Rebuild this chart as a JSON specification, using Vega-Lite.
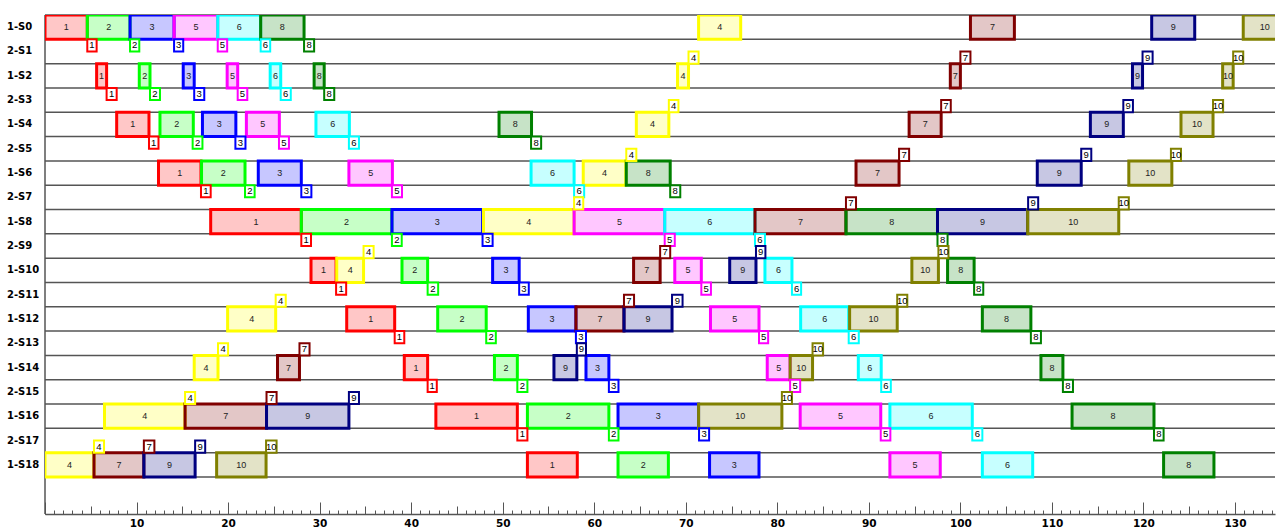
{
  "$schema": "https://vega.github.io/schema/vega-lite/v6.json",
  "width": 1230,
  "height": 499,
  "autosize": {"type": "none"},
  "padding": {"left": 45, "top": 15, "right": 4, "bottom": 14},
  "background": "white",
  "config": {"view": {"stroke": null}, "font": "Liberation Sans"},
  "datasets": {
    "rows": [
      {"row": "1-S0"}, {"row": "2-S1"}, {"row": "1-S2"}, {"row": "2-S3"}, {"row": "1-S4"}, {"row": "2-S5"}, {"row": "1-S6"}, {"row": "2-S7"}, {"row": "1-S8"}, {"row": "2-S9"},
      {"row": "1-S10"}, {"row": "2-S11"}, {"row": "1-S12"}, {"row": "2-S13"}, {"row": "1-S14"}, {"row": "2-S15"}, {"row": "1-S16"}, {"row": "2-S17"}, {"row": "1-S18"}
    ],
    "bars": [
      {"row": "1-S0", "job": 1, "start": 0, "end": 4.62},
      {"row": "1-S0", "job": 2, "start": 4.62, "end": 9.29},
      {"row": "1-S0", "job": 3, "start": 9.29, "end": 14.1},
      {"row": "1-S0", "job": 5, "start": 14.1, "end": 18.87},
      {"row": "1-S0", "job": 6, "start": 18.87, "end": 23.56},
      {"row": "1-S0", "job": 8, "start": 23.56, "end": 28.3},
      {"row": "1-S0", "job": 4, "start": 71.4, "end": 76.0},
      {"row": "1-S0", "job": 7, "start": 101.1, "end": 105.9},
      {"row": "1-S0", "job": 9, "start": 120.9, "end": 125.6},
      {"row": "1-S0", "job": 10, "start": 130.9, "end": 135.6},
      {"row": "1-S2", "job": 1, "start": 5.64, "end": 6.73},
      {"row": "1-S2", "job": 2, "start": 10.3, "end": 11.47},
      {"row": "1-S2", "job": 3, "start": 15.1, "end": 16.3},
      {"row": "1-S2", "job": 5, "start": 19.9, "end": 21.05},
      {"row": "1-S2", "job": 6, "start": 24.6, "end": 25.75},
      {"row": "1-S2", "job": 8, "start": 29.4, "end": 30.5},
      {"row": "1-S2", "job": 4, "start": 69.1, "end": 70.3},
      {"row": "1-S2", "job": 7, "start": 98.9, "end": 100.0},
      {"row": "1-S2", "job": 9, "start": 118.8, "end": 119.9},
      {"row": "1-S2", "job": 10, "start": 128.65, "end": 129.8},
      {"row": "1-S4", "job": 1, "start": 7.83, "end": 11.36},
      {"row": "1-S4", "job": 2, "start": 12.56, "end": 16.2},
      {"row": "1-S4", "job": 3, "start": 17.2, "end": 20.85},
      {"row": "1-S4", "job": 5, "start": 22.0, "end": 25.6},
      {"row": "1-S4", "job": 6, "start": 29.6, "end": 33.25},
      {"row": "1-S4", "job": 8, "start": 49.6, "end": 53.15},
      {"row": "1-S4", "job": 4, "start": 64.6, "end": 68.15},
      {"row": "1-S4", "job": 7, "start": 94.4, "end": 97.9},
      {"row": "1-S4", "job": 9, "start": 114.2, "end": 117.8},
      {"row": "1-S4", "job": 10, "start": 124.1, "end": 127.6},
      {"row": "1-S6", "job": 1, "start": 12.4, "end": 17.04},
      {"row": "1-S6", "job": 2, "start": 17.1, "end": 21.85},
      {"row": "1-S6", "job": 3, "start": 23.3, "end": 28.0},
      {"row": "1-S6", "job": 5, "start": 33.2, "end": 37.95},
      {"row": "1-S6", "job": 6, "start": 53.1, "end": 57.8},
      {"row": "1-S6", "job": 4, "start": 58.8, "end": 63.45},
      {"row": "1-S6", "job": 8, "start": 63.5, "end": 68.3},
      {"row": "1-S6", "job": 7, "start": 88.6, "end": 93.3},
      {"row": "1-S6", "job": 9, "start": 108.4, "end": 113.2},
      {"row": "1-S6", "job": 10, "start": 118.4, "end": 123.1},
      {"row": "1-S8", "job": 1, "start": 18.1, "end": 28.0},
      {"row": "1-S8", "job": 2, "start": 28.0, "end": 37.9},
      {"row": "1-S8", "job": 3, "start": 37.9, "end": 47.8},
      {"row": "1-S8", "job": 4, "start": 47.9, "end": 57.8},
      {"row": "1-S8", "job": 5, "start": 57.8, "end": 67.7},
      {"row": "1-S8", "job": 6, "start": 67.7, "end": 77.56},
      {"row": "1-S8", "job": 7, "start": 77.56, "end": 87.5},
      {"row": "1-S8", "job": 8, "start": 87.5, "end": 97.5},
      {"row": "1-S8", "job": 9, "start": 97.5, "end": 107.35},
      {"row": "1-S8", "job": 10, "start": 107.35, "end": 117.3},
      {"row": "1-S10", "job": 1, "start": 29.06, "end": 31.8},
      {"row": "1-S10", "job": 4, "start": 31.87, "end": 34.8},
      {"row": "1-S10", "job": 2, "start": 39.0, "end": 41.8},
      {"row": "1-S10", "job": 3, "start": 48.9, "end": 51.8},
      {"row": "1-S10", "job": 7, "start": 64.3, "end": 67.2},
      {"row": "1-S10", "job": 5, "start": 68.8, "end": 71.7},
      {"row": "1-S10", "job": 9, "start": 74.8, "end": 77.67},
      {"row": "1-S10", "job": 6, "start": 78.65, "end": 81.6},
      {"row": "1-S10", "job": 10, "start": 94.7, "end": 97.6},
      {"row": "1-S10", "job": 8, "start": 98.6, "end": 101.5},
      {"row": "1-S12", "job": 4, "start": 19.95, "end": 25.2},
      {"row": "1-S12", "job": 1, "start": 32.96, "end": 38.2},
      {"row": "1-S12", "job": 2, "start": 42.9, "end": 48.2},
      {"row": "1-S12", "job": 3, "start": 52.8, "end": 58.0},
      {"row": "1-S12", "job": 7, "start": 58.0, "end": 63.25},
      {"row": "1-S12", "job": 9, "start": 63.25, "end": 68.5},
      {"row": "1-S12", "job": 5, "start": 72.7, "end": 78.0},
      {"row": "1-S12", "job": 6, "start": 82.55, "end": 87.8},
      {"row": "1-S12", "job": 10, "start": 87.9, "end": 93.1},
      {"row": "1-S12", "job": 8, "start": 102.4, "end": 107.7},
      {"row": "1-S14", "job": 4, "start": 16.3, "end": 18.9},
      {"row": "1-S14", "job": 7, "start": 25.4, "end": 27.8},
      {"row": "1-S14", "job": 1, "start": 39.25, "end": 41.8},
      {"row": "1-S14", "job": 2, "start": 49.1, "end": 51.6},
      {"row": "1-S14", "job": 9, "start": 55.6, "end": 58.1},
      {"row": "1-S14", "job": 3, "start": 59.1, "end": 61.6},
      {"row": "1-S14", "job": 5, "start": 78.9, "end": 81.4},
      {"row": "1-S14", "job": 10, "start": 81.4, "end": 83.85},
      {"row": "1-S14", "job": 6, "start": 88.85, "end": 91.35},
      {"row": "1-S14", "job": 8, "start": 108.8, "end": 111.2},
      {"row": "1-S16", "job": 4, "start": 6.5, "end": 15.3},
      {"row": "1-S16", "job": 7, "start": 15.3, "end": 24.2},
      {"row": "1-S16", "job": 9, "start": 24.2, "end": 33.2},
      {"row": "1-S16", "job": 1, "start": 42.7, "end": 51.6},
      {"row": "1-S16", "job": 2, "start": 52.7, "end": 61.6},
      {"row": "1-S16", "job": 3, "start": 62.6, "end": 71.4},
      {"row": "1-S16", "job": 10, "start": 71.4, "end": 80.5},
      {"row": "1-S16", "job": 5, "start": 82.5, "end": 91.3},
      {"row": "1-S16", "job": 6, "start": 92.3, "end": 101.3},
      {"row": "1-S16", "job": 8, "start": 112.2, "end": 121.15},
      {"row": "1-S18", "job": 4, "start": 0, "end": 5.35},
      {"row": "1-S18", "job": 7, "start": 5.35, "end": 10.8},
      {"row": "1-S18", "job": 9, "start": 10.8, "end": 16.4},
      {"row": "1-S18", "job": 10, "start": 18.75, "end": 24.15},
      {"row": "1-S18", "job": 1, "start": 52.7, "end": 58.15},
      {"row": "1-S18", "job": 2, "start": 62.6, "end": 68.1},
      {"row": "1-S18", "job": 3, "start": 72.6, "end": 78.0},
      {"row": "1-S18", "job": 5, "start": 92.3, "end": 97.8},
      {"row": "1-S18", "job": 6, "start": 102.4, "end": 107.9},
      {"row": "1-S18", "job": 8, "start": 122.2, "end": 127.7}
    ],
    "tags": [
      {"row": "2-S1", "job": 1, "half": "top", "start": 4.62, "end": 5.64},
      {"row": "2-S1", "job": 2, "half": "top", "start": 9.29, "end": 10.3},
      {"row": "2-S1", "job": 3, "half": "top", "start": 14.1, "end": 15.1},
      {"row": "2-S1", "job": 5, "half": "top", "start": 18.87, "end": 19.9},
      {"row": "2-S1", "job": 6, "half": "top", "start": 23.56, "end": 24.6},
      {"row": "2-S1", "job": 8, "half": "top", "start": 28.3, "end": 29.4},
      {"row": "2-S1", "job": 4, "half": "bottom", "start": 70.3, "end": 71.4},
      {"row": "2-S1", "job": 7, "half": "bottom", "start": 100.0, "end": 101.1},
      {"row": "2-S1", "job": 9, "half": "bottom", "start": 119.9, "end": 121.0},
      {"row": "2-S1", "job": 10, "half": "bottom", "start": 129.8, "end": 130.9},
      {"row": "2-S3", "job": 1, "half": "top", "start": 6.73, "end": 7.83},
      {"row": "2-S3", "job": 2, "half": "top", "start": 11.47, "end": 12.56},
      {"row": "2-S3", "job": 3, "half": "top", "start": 16.3, "end": 17.4},
      {"row": "2-S3", "job": 5, "half": "top", "start": 21.05, "end": 22.1},
      {"row": "2-S3", "job": 6, "half": "top", "start": 25.75, "end": 26.85},
      {"row": "2-S3", "job": 8, "half": "top", "start": 30.5, "end": 31.6},
      {"row": "2-S3", "job": 4, "half": "bottom", "start": 68.15, "end": 69.2},
      {"row": "2-S3", "job": 7, "half": "bottom", "start": 97.9, "end": 98.95},
      {"row": "2-S3", "job": 9, "half": "bottom", "start": 117.8, "end": 118.85},
      {"row": "2-S3", "job": 10, "half": "bottom", "start": 127.6, "end": 128.7},
      {"row": "2-S5", "job": 1, "half": "top", "start": 11.36, "end": 12.4},
      {"row": "2-S5", "job": 2, "half": "top", "start": 16.13, "end": 17.2},
      {"row": "2-S5", "job": 3, "half": "top", "start": 20.8, "end": 21.9},
      {"row": "2-S5", "job": 5, "half": "top", "start": 25.56, "end": 26.65},
      {"row": "2-S5", "job": 6, "half": "top", "start": 33.2, "end": 34.3},
      {"row": "2-S5", "job": 8, "half": "top", "start": 53.1, "end": 54.2},
      {"row": "2-S5", "job": 4, "half": "bottom", "start": 63.5, "end": 64.6},
      {"row": "2-S5", "job": 7, "half": "bottom", "start": 93.3, "end": 94.4},
      {"row": "2-S5", "job": 9, "half": "bottom", "start": 113.2, "end": 114.3},
      {"row": "2-S5", "job": 10, "half": "bottom", "start": 123.0, "end": 124.1},
      {"row": "2-S7", "job": 1, "half": "top", "start": 17.04, "end": 18.1},
      {"row": "2-S7", "job": 2, "half": "top", "start": 21.85, "end": 22.9},
      {"row": "2-S7", "job": 3, "half": "top", "start": 28.0, "end": 29.1},
      {"row": "2-S7", "job": 5, "half": "top", "start": 37.9, "end": 39.0},
      {"row": "2-S7", "job": 6, "half": "top", "start": 57.8, "end": 58.9},
      {"row": "2-S7", "job": 8, "half": "top", "start": 68.3, "end": 69.4},
      {"row": "2-S7", "job": 4, "half": "bottom", "start": 57.8, "end": 58.8},
      {"row": "2-S7", "job": 7, "half": "bottom", "start": 87.5, "end": 88.6},
      {"row": "2-S7", "job": 9, "half": "bottom", "start": 107.4, "end": 108.5},
      {"row": "2-S7", "job": 10, "half": "bottom", "start": 117.3, "end": 118.4},
      {"row": "2-S9", "job": 1, "half": "top", "start": 28.0, "end": 29.06},
      {"row": "2-S9", "job": 2, "half": "top", "start": 37.9, "end": 38.97},
      {"row": "2-S9", "job": 3, "half": "top", "start": 47.8, "end": 48.9},
      {"row": "2-S9", "job": 5, "half": "top", "start": 67.7, "end": 68.8},
      {"row": "2-S9", "job": 6, "half": "top", "start": 77.56, "end": 78.65},
      {"row": "2-S9", "job": 8, "half": "top", "start": 97.5, "end": 98.6},
      {"row": "2-S9", "job": 4, "half": "bottom", "start": 34.8, "end": 35.9},
      {"row": "2-S9", "job": 7, "half": "bottom", "start": 67.2, "end": 68.3},
      {"row": "2-S9", "job": 9, "half": "bottom", "start": 77.67, "end": 78.7},
      {"row": "2-S9", "job": 10, "half": "bottom", "start": 97.6, "end": 98.7},
      {"row": "2-S11", "job": 1, "half": "top", "start": 31.8, "end": 32.9},
      {"row": "2-S11", "job": 2, "half": "top", "start": 41.8, "end": 42.95},
      {"row": "2-S11", "job": 3, "half": "top", "start": 51.8, "end": 52.85},
      {"row": "2-S11", "job": 5, "half": "top", "start": 71.7, "end": 72.75},
      {"row": "2-S11", "job": 6, "half": "top", "start": 81.6, "end": 82.6},
      {"row": "2-S11", "job": 8, "half": "top", "start": 101.5, "end": 102.5},
      {"row": "2-S11", "job": 4, "half": "bottom", "start": 25.2, "end": 26.3},
      {"row": "2-S11", "job": 7, "half": "bottom", "start": 63.25, "end": 64.35},
      {"row": "2-S11", "job": 9, "half": "bottom", "start": 68.5, "end": 69.65},
      {"row": "2-S11", "job": 10, "half": "bottom", "start": 93.1, "end": 94.2},
      {"row": "2-S13", "job": 1, "half": "top", "start": 38.2, "end": 39.25},
      {"row": "2-S13", "job": 2, "half": "top", "start": 48.2, "end": 49.25},
      {"row": "2-S13", "job": 3, "half": "top", "start": 58.0, "end": 59.1},
      {"row": "2-S13", "job": 5, "half": "top", "start": 78.0, "end": 79.0},
      {"row": "2-S13", "job": 6, "half": "top", "start": 87.8, "end": 88.9},
      {"row": "2-S13", "job": 8, "half": "top", "start": 107.7, "end": 108.8},
      {"row": "2-S13", "job": 4, "half": "bottom", "start": 18.9, "end": 20.0},
      {"row": "2-S13", "job": 7, "half": "bottom", "start": 27.8, "end": 28.9},
      {"row": "2-S13", "job": 9, "half": "bottom", "start": 58.1, "end": 59.1},
      {"row": "2-S13", "job": 10, "half": "bottom", "start": 83.85, "end": 85.0},
      {"row": "2-S15", "job": 1, "half": "top", "start": 41.8, "end": 42.8},
      {"row": "2-S15", "job": 2, "half": "top", "start": 51.6, "end": 52.7},
      {"row": "2-S15", "job": 3, "half": "top", "start": 61.6, "end": 62.65},
      {"row": "2-S15", "job": 5, "half": "top", "start": 81.4, "end": 82.5},
      {"row": "2-S15", "job": 6, "half": "top", "start": 91.35, "end": 92.4},
      {"row": "2-S15", "job": 8, "half": "top", "start": 111.2, "end": 112.3},
      {"row": "2-S15", "job": 4, "half": "bottom", "start": 15.3, "end": 16.4},
      {"row": "2-S15", "job": 7, "half": "bottom", "start": 24.2, "end": 25.3},
      {"row": "2-S15", "job": 9, "half": "bottom", "start": 33.2, "end": 34.3},
      {"row": "2-S15", "job": 10, "half": "bottom", "start": 80.5, "end": 81.6},
      {"row": "2-S17", "job": 1, "half": "top", "start": 51.6, "end": 52.7},
      {"row": "2-S17", "job": 2, "half": "top", "start": 61.6, "end": 62.65},
      {"row": "2-S17", "job": 3, "half": "top", "start": 71.45, "end": 72.55},
      {"row": "2-S17", "job": 5, "half": "top", "start": 91.3, "end": 92.35},
      {"row": "2-S17", "job": 6, "half": "top", "start": 101.3, "end": 102.4},
      {"row": "2-S17", "job": 8, "half": "top", "start": 121.15, "end": 122.2},
      {"row": "2-S17", "job": 4, "half": "bottom", "start": 5.35, "end": 6.45},
      {"row": "2-S17", "job": 7, "half": "bottom", "start": 10.8, "end": 11.95},
      {"row": "2-S17", "job": 9, "half": "bottom", "start": 16.4, "end": 17.5},
      {"row": "2-S17", "job": 10, "half": "bottom", "start": 24.15, "end": 25.3}
    ]
  },
  "resolve": {"axis": {"x": "independent"}},
  "layer": [
    {
      "data": {"name": "rows"},
      "mark": {"type": "rule", "color": "#555555", "strokeWidth": 1.5},
      "encoding": {
        "y": {"field": "row", "type": "nominal", "bandPosition": 0, "axis": null,
          "scale": {"domain": ["1-S0","2-S1","1-S2","2-S3","1-S4","2-S5","1-S6","2-S7","1-S8","2-S9","1-S10","2-S11","1-S12","2-S13","1-S14","2-S15","1-S16","2-S17","1-S18"], "range": [0, 462], "paddingInner": 0, "paddingOuter": 0}}
      }
    },
    {
      "data": {"name": "rows"},
      "transform": [{"filter": "datum.row == '1-S18'"}],
      "mark": {"type": "rule", "color": "#555555", "strokeWidth": 1.5},
      "encoding": {
        "y": {"field": "row", "type": "nominal", "bandPosition": 1, "axis": null}
      }
    },
    {
      "data": {"name": "rows"},
      "mark": {"type": "text", "align": "left", "baseline": "middle", "dx": -38, "font": "DejaVu Sans", "fontWeight": "bold", "fontSize": 10, "color": "#000000"},
      "encoding": {
        "x": {"datum": 0, "type": "quantitative", "axis": null},
        "y": {"field": "row", "type": "nominal", "axis": null},
        "text": {"field": "row", "type": "nominal"}
      }
    },
    {
      "data": {"values": [{"edge": "left"}]},
      "mark": {"type": "rule", "color": "#555555", "strokeWidth": 1.5},
      "encoding": {
        "x": {"datum": 0, "type": "quantitative",
          "scale": {"domain": [0, 134.37], "nice": false, "zero": false},
          "axis": {"orient": "bottom", "tickCount": 13, "tickSize": -12, "tickColor": "#555555", "tickWidth": 1, "labels": false, "domain": false, "grid": false, "title": null}}
      }
    },
    {
      "data": {"name": "bars"},
      "mark": {"type": "bar", "strokeWidth": 3, "fillOpacity": 0.22, "clip": true},
      "encoding": {
        "x": {"field": "start", "type": "quantitative",
          "axis": {"orient": "bottom", "tickCount": 134, "tickSize": -4, "tickColor": "#555555", "tickWidth": 1, "labels": false, "domain": true, "domainColor": "#555555", "domainWidth": 1.5, "grid": false, "title": null}},
        "x2": {"field": "end"},
        "y": {"field": "row", "type": "nominal", "axis": null},
        "fill": {"field": "job", "type": "nominal", "legend": null,
          "scale": {"domain": [1,2,3,4,5,6,7,8,9,10], "range": ["#ff0000","#00ff00","#0000ff","#ffff00","#ff00ff","#00ffff","#800000","#008000","#000080","#808000"]}},
        "stroke": {"field": "job", "type": "nominal", "legend": null,
          "scale": {"domain": [1,2,3,4,5,6,7,8,9,10], "range": ["#ff0000","#00ff00","#0000ff","#ffff00","#ff00ff","#00ffff","#800000","#008000","#000080","#808000"]}}
      }
    },
    {
      "data": {"name": "bars"},
      "transform": [
        {"fold": ["start", "end"], "as": ["edge", "t"]},
        {"aggregate": [{"op": "mean", "field": "t", "as": "mid"}], "groupby": ["row", "job"]}
      ],
      "mark": {"type": "text", "fontSize": 9, "color": "#222222", "font": "Liberation Sans"},
      "encoding": {
        "x": {"field": "mid", "type": "quantitative",
          "axis": {"orient": "bottom", "values": [10,20,30,40,50,60,70,80,90,100,110,120,130], "ticks": false, "domain": false, "grid": false, "labelPadding": 4, "labelFont": "DejaVu Sans", "labelFontWeight": "bold", "labelFontSize": 10.5, "labelColor": "#000000", "labelFlush": false, "title": null}},
        "y": {"field": "row", "type": "nominal", "axis": null},
        "text": {"field": "job", "type": "nominal"}
      }
    },
    {
      "data": {"name": "tags"},
      "mark": {"type": "bar", "strokeWidth": 2, "fill": "white"},
      "encoding": {
        "x": {"field": "start", "type": "quantitative",
          "axis": {"orient": "bottom", "tickCount": 27, "tickSize": -8, "tickColor": "#555555", "tickWidth": 1, "labels": false, "domain": false, "grid": false, "title": null}},
        "x2": {"field": "end"},
        "y": {"field": "row", "type": "nominal", "axis": null},
        "yOffset": {"field": "half", "type": "nominal", "scale": {"domain": ["top", "bottom"], "paddingInner": 0, "paddingOuter": 0}},
        "stroke": {"field": "job", "type": "nominal", "legend": null}
      }
    },
    {
      "data": {"name": "tags"},
      "transform": [
        {"fold": ["start", "end"], "as": ["edge", "t"]},
        {"aggregate": [{"op": "mean", "field": "t", "as": "mid"}], "groupby": ["row", "job", "half"]}
      ],
      "mark": {"type": "text", "fontSize": 9.5, "color": "#000000", "font": "Liberation Sans"},
      "encoding": {
        "x": {"field": "mid", "type": "quantitative", "axis": null},
        "y": {"field": "row", "type": "nominal", "axis": null},
        "yOffset": {"field": "half", "type": "nominal"},
        "text": {"field": "job", "type": "nominal"}
      }
    }
  ]
}
